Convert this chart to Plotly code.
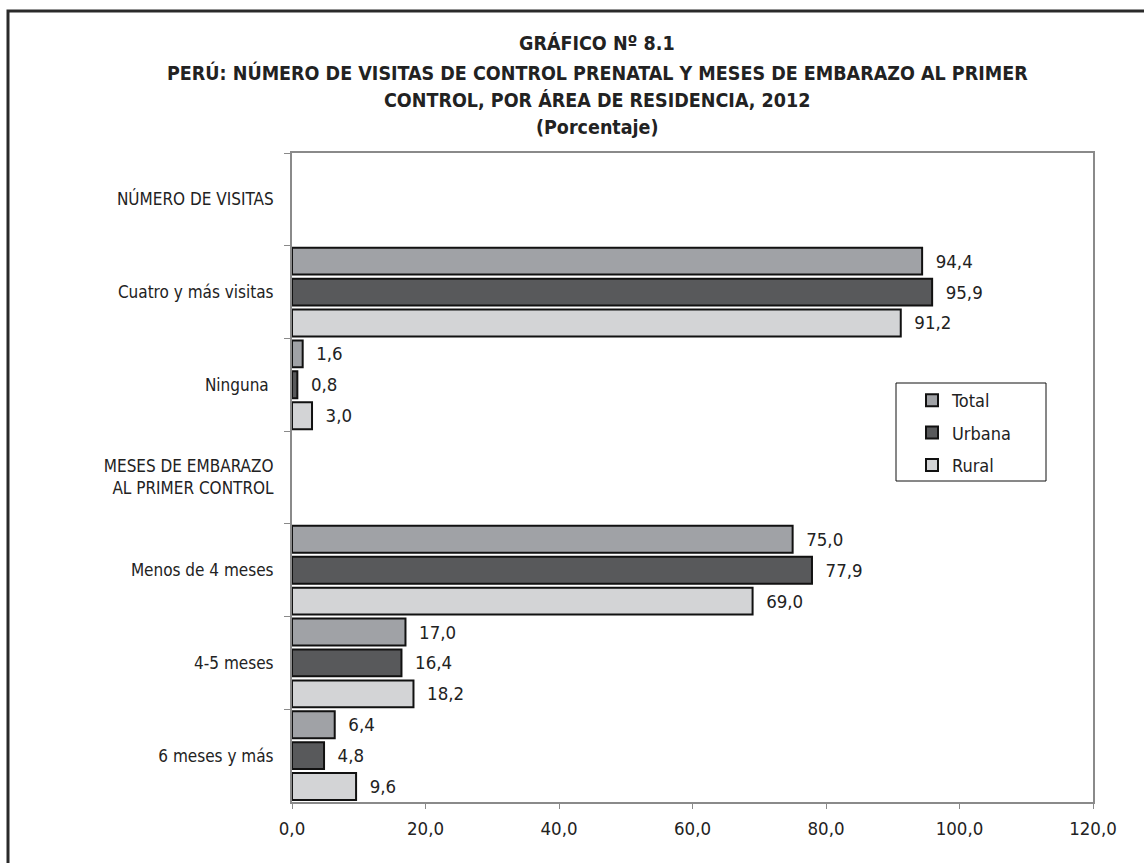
import plotly.graph_objects as go

categories = [
    "NÚMERO DE VISITAS",
    "Cuatro y más visitas",
    "Ninguna\u00a0",
    "MESES DE EMBARAZO<br>AL PRIMER CONTROL",
    "Menos de 4 meses",
    "4-5 meses",
    "6 meses y más",
]
total = [None, 94.4, 1.6, None, 75.0, 17.0, 6.4]
urbana = [None, 95.9, 0.8, None, 77.9, 16.4, 4.8]
rural = [None, 91.2, 3.0, None, 69.0, 18.2, 9.6]
series_names = ["Total", "Urbana", "Rural"]
colors = ["#a0a2a6", "#58595b", "#d3d4d6"]
title_lines = [
    "GRÁFICO Nº 8.1",
    "PERÚ: NÚMERO DE VISITAS DE CONTROL PRENATAL Y MESES DE EMBARAZO AL PRIMER",
    "CONTROL, POR ÁREA DE RESIDENCIA, 2012",
    "(Porcentaje)",
]

FONT = "Liberation Sans Narrow, Arial Narrow, DejaVu Sans Condensed, sans-serif"
W, H = 1144, 863
L, R, T, B = 292, 1093, 153, 802

fig = go.Figure()
for name, vals, col in zip(series_names, [total, urbana, rural], colors):
    fig.add_trace(go.Bar(
        y=categories, x=vals, name=name, orientation="h",
        marker=dict(color=col, line=dict(color="#111111", width=2)),
        texttemplate="\u00a0\u00a0%{x:.1f}", textposition="outside",
        textfont=dict(family=FONT, size=18.5, color="#222222"),
        cliponaxis=False, legendgroup=name,
    ))

pw, ph = R - L, B - T
def px(x):
    return (x - L) / pw
def py(y):
    return (B - y) / ph

annotations = []
for line, yc in zip(title_lines, [43, 73, 101, 128]):
    annotations.append(dict(
        text="<b>" + line + "</b>", xref="paper", yref="paper",
        x=px(597), y=py(yc), xanchor="center", yanchor="middle",
        showarrow=False, font=dict(family=FONT, size=19.5, color="#222222"),
    ))

fig.update_layout(
    width=W, height=H,
    margin=dict(l=L, r=W - R, t=T, b=H - B, pad=0),
    paper_bgcolor="white", plot_bgcolor="white",
    separators=",.",
    barmode="group", bargap=0.0, bargroupgap=0.13,
    font=dict(family=FONT, size=17, color="#222222"),
    showlegend=True,
    legend=dict(
        x=px(912), y=py(382), xanchor="left", yanchor="top",
        borderwidth=0, bgcolor="rgba(0,0,0,0)",
        font=dict(family=FONT, size=18, color="#222222"),
        tracegroupgap=6, itemwidth=30,
    ),
    annotations=annotations,
    shapes=[
        dict(
            type="rect", xref="paper", yref="paper",
            x0=px(8), x1=px(1200), y0=py(900), y1=py(11),
            line=dict(color="#2a2a2a", width=3), fillcolor="rgba(0,0,0,0)",
            layer="below",
        ),
        dict(
            type="rect", xref="paper", yref="paper",
            x0=px(896), x1=px(1046), y0=py(481), y1=py(383),
            line=dict(color="#111111", width=1), fillcolor="white",
            layer="above",
        ),
    ],
)

fig.update_xaxes(
    range=[0, 120], dtick=20, tick0=0, tickformat=".1f",
    showgrid=False, zeroline=False,
    showline=True, linecolor="#8a8a8a", linewidth=2, mirror=True,
    ticks="outside", ticklen=5, tickcolor="#8a8a8a", tickwidth=1,
    ticklabelstandoff=4,
    tickfont=dict(family=FONT, size=18.5, color="#222222"),
)
fig.update_yaxes(
    categoryorder="array", categoryarray=categories, autorange="reversed",
    tickson="boundaries", showgrid=False, zeroline=False,
    showline=True, linecolor="#8a8a8a", linewidth=2, mirror=True,
    ticks="outside", ticklen=6, tickcolor="#8a8a8a", tickwidth=1,
    ticklabelstandoff=13,
    tickfont=dict(family=FONT, size=17, color="#222222"),
)

fig.write_html("out.html")
